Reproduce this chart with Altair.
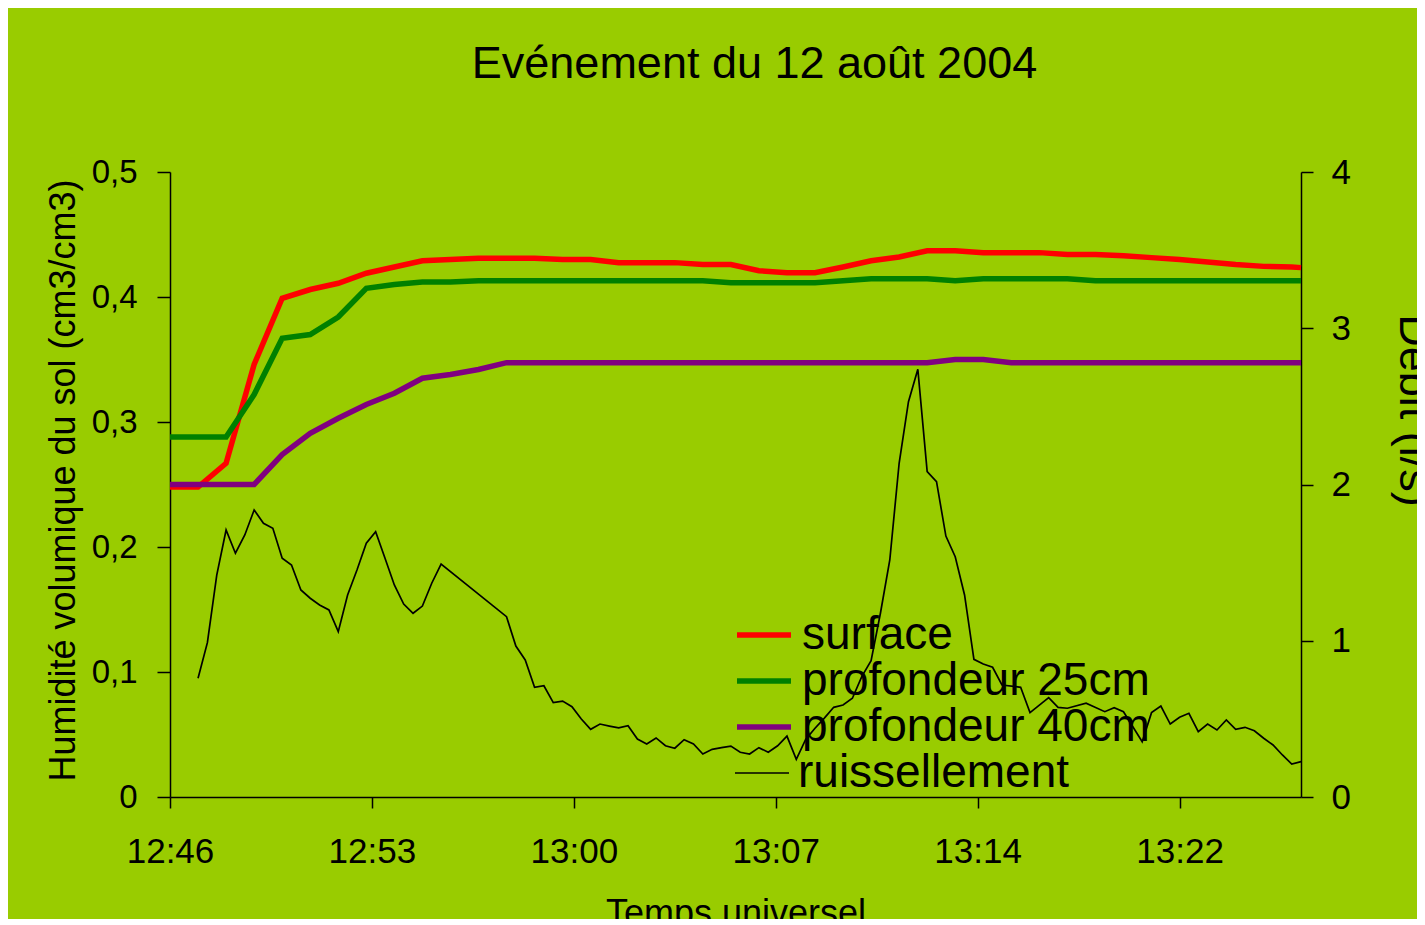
import altair as alt
import pandas as pd

# ---------------- data ----------------
# minutes since 12:46 (soil probes, one reading per minute)
soil_minutes = [0, 1, 2, 3, 4, 5, 6, 7, 8, 9, 10, 11, 12, 13, 14, 15, 16, 17, 18, 19, 20,
                21, 22, 23, 24, 25, 26, 27, 28, 29, 30, 31, 32, 33, 34, 35, 36, 37, 38, 39, 40, 40.33]
surface = [0.248, 0.248, 0.267, 0.346, 0.399, 0.406, 0.411, 0.419, 0.424, 0.429, 0.430,
           0.431, 0.431, 0.431, 0.430, 0.430, 0.4275, 0.4275, 0.4275, 0.426, 0.426,
           0.421, 0.4195, 0.4195, 0.424, 0.429, 0.432, 0.437, 0.437, 0.4355, 0.4355,
           0.4355, 0.434, 0.434, 0.433, 0.4315, 0.430, 0.428, 0.426, 0.4245, 0.424, 0.4235]
prof25 = [0.288, 0.288, 0.288, 0.322, 0.367, 0.370, 0.384, 0.407, 0.410, 0.412, 0.412,
          0.413, 0.413, 0.413, 0.413, 0.413, 0.413, 0.413, 0.413, 0.413, 0.4115,
          0.4115, 0.4115, 0.4115, 0.413, 0.4146, 0.4146, 0.4146, 0.413, 0.4146, 0.4146,
          0.4146, 0.4146, 0.413, 0.413, 0.413, 0.413, 0.413, 0.413, 0.413, 0.413, 0.413]
prof40 = [0.25, 0.25, 0.25, 0.25, 0.274, 0.291, 0.303, 0.314, 0.323, 0.335, 0.338,
          0.342, 0.3475, 0.3475, 0.3475, 0.3475, 0.3475, 0.3475, 0.3475, 0.3475, 0.3475,
          0.3475, 0.3475, 0.3475, 0.3475, 0.3475, 0.3475, 0.3475, 0.350, 0.350, 0.3475,
          0.3475, 0.3475, 0.3475, 0.3475, 0.3475, 0.3475, 0.3475, 0.3475, 0.3475, 0.3475, 0.3475]

# runoff (l/s), readings every 20 s
runoff_t = [1.0, 1.333, 1.667, 2.0, 2.333, 2.667, 3.0, 3.333, 3.667, 4.0, 4.333, 4.667,
            5.0, 5.333, 5.667, 6.0, 6.333, 6.667, 7.0, 7.333, 7.667, 8.0, 8.333, 8.667,
            9.0, 9.333, 9.667, 12.0, 12.333, 12.667, 13.0, 13.333, 13.667, 14.0, 14.333,
            14.667, 15.0, 15.333, 15.667, 16.0, 16.333, 16.667, 17.0, 17.333, 17.667,
            18.0, 18.333, 18.667, 19.0, 19.333, 19.667, 20.0, 20.333, 20.667, 21.0,
            21.333, 21.667, 22.0, 22.333, 22.667, 23.0, 23.333, 23.667, 24.0, 24.333,
            24.667, 25.0, 25.333, 25.667, 26.0, 26.333, 26.667, 27.0, 27.333, 27.667,
            28.0, 28.333, 28.667, 29.0, 29.333, 29.667, 30.333, 30.667, 31.333, 31.667,
            32.0, 32.667, 33.333, 33.667, 34.0, 34.667, 35.0, 35.333, 35.667, 36.0,
            36.333, 36.667, 37.0, 37.333, 37.667, 38.0, 38.333, 38.667, 39.0, 39.333,
            39.667, 40.0, 40.333]
runoff_q = [0.76, 0.988, 1.42, 1.709, 1.56, 1.677, 1.837, 1.752, 1.72, 1.528, 1.485, 1.325,
            1.272, 1.229, 1.197, 1.058, 1.293, 1.453, 1.624, 1.698, 1.528, 1.357, 1.235, 1.176,
            1.222, 1.368, 1.491, 1.154, 0.966, 0.877, 0.702, 0.712, 0.604, 0.614, 0.578,
            0.499, 0.433, 0.467, 0.454, 0.442, 0.456, 0.371, 0.339, 0.378, 0.328,
            0.312, 0.367, 0.339, 0.275, 0.305, 0.316, 0.326, 0.286, 0.275, 0.316,
            0.286, 0.328, 0.39, 0.241, 0.369, 0.44, 0.505, 0.574, 0.589, 0.632,
            0.77, 0.872, 1.176, 1.517, 2.136, 2.53, 2.737, 2.082, 2.018, 1.670,
            1.538, 1.293, 0.881, 0.851, 0.830, 0.717, 0.702, 0.540, 0.636, 0.574,
            0.568, 0.60, 0.546, 0.572, 0.546, 0.354, 0.540, 0.582, 0.467, 0.510,
            0.536, 0.418, 0.467, 0.429, 0.493, 0.433, 0.446, 0.424, 0.376, 0.333,
            0.269, 0.211, 0.226]

series_names = ["surface", "profondeur 25cm", "profondeur 40cm", "ruissellement"]
series_colors = ["#FF0000", "#008000", "#800080", "#000000"]

x_tick_values = [0, 7.2, 14.4, 21.6, 28.8, 36.0]
x_tick_labels = ["12:46", "12:53", "13:00", "13:07", "13:14", "13:22"]
left_tick_values = [0, 0.1, 0.2, 0.3, 0.4, 0.5]
left_tick_labels = ["0", "0,1", "0,2", "0,3", "0,4", "0,5"]
right_tick_values = [0, 1, 2, 3, 4]

FONT = "Liberation Sans"

# legend rows (pixel offsets from the plot top)
legend_rows_y = [433, 479, 525, 573]

x_label_expr = "[" + ",".join("'%s'" % s for s in x_tick_labels) + "][round(datum.value / 7.2)]"
y_label_expr = "[" + ",".join("'%s'" % s for s in left_tick_labels) + "][round(datum.value * 10)]"

x_enc = alt.X(
    "t:Q",
    scale=alt.Scale(domain=[0, 40.33], nice=False, zero=False),
    axis=alt.Axis(values=x_tick_values, labelExpr=x_label_expr, title="Temps universel",
                  grid=False, tickSize=11, labelPadding=26, labelFontSize=35,
                  labelFlush=False, labelOverlap=False,
                  titleFontSize=36, titleFontWeight="normal", titleY=116,
                  titleBaseline="middle"),
)

left_axis = alt.Axis(values=left_tick_values, labelExpr=y_label_expr,
                     title="Humidité volumique du sol (cm3/cm3)", grid=False,
                     tickSize=13, labelPadding=20, labelFontSize=33,
                     titleFontSize=36, titleFontWeight="normal", titleAngle=270,
                     titleX=-107, titleY=308, titleAlign="center",
                     titleBaseline="middle")


def legend_for(i, width):
    return alt.Legend(title=None, orient="none", legendX=564, legendY=legend_rows_y[i],
                      symbolType="stroke", symbolSize=2916, symbolStrokeWidth=width,
                      labelFontSize=46, labelFont=FONT, labelLimit=800, labelOffset=8,
                      padding=0)


layers = []
for i, vals in enumerate([surface, prof25, prof40]):
    df = pd.DataFrame({"t": soil_minutes, "v": vals, "serie": series_names[i]})
    layers.append(
        alt.Chart(df).mark_line(strokeWidth=5.5).encode(
            x=x_enc,
            y=alt.Y("v:Q", scale=alt.Scale(domain=[0, 0.5], nice=False), axis=left_axis),
            color=alt.Color("serie:N",
                            scale=alt.Scale(domain=[series_names[i]], range=[series_colors[i]]),
                            legend=legend_for(i, 5.5)),
            order=alt.Order("t:Q"),
        )
    )
soil = alt.layer(*layers).resolve_scale(color="independent")

runoff_df = pd.DataFrame({"t": runoff_t, "q": runoff_q, "serie": series_names[3]})
runoff = alt.Chart(runoff_df).mark_line(strokeWidth=1.7).encode(
    x=x_enc,
    y=alt.Y("q:Q", scale=alt.Scale(domain=[0, 4], nice=False),
            axis=alt.Axis(orient="right", values=right_tick_values, format="d",
                          title="Débit (l/s)", grid=False, tickSize=12, labelPadding=18,
                          labelFontSize=35, titleFontSize=45, titleFontWeight="normal",
                          titleAngle=90, titleX=112, titleY=238, titleAlign="center",
                          titleBaseline="middle")),
    color=alt.Color("serie:N",
                    scale=alt.Scale(domain=[series_names[3]], range=[series_colors[3]]),
                    legend=legend_for(3, 1.7)),
    order=alt.Order("t:Q"),
)

chart = alt.layer(soil, runoff).resolve_scale(
    y="independent", color="independent"
).properties(
    width=1131,
    height=625,
    padding={"left": 162, "top": 164, "right": 116, "bottom": 122},
    autosize=alt.AutoSizeParams(type="none"),
    background="#99CC00",
    title=alt.TitleParams("Evénement du 12 août 2004", fontSize=45, font=FONT,
                          fontWeight="normal", anchor="middle", frame="group",
                          baseline="alphabetic", offset=32, dx=19, color="black"),
).configure(
    font=FONT,
).configure_view(
    stroke=None,
).configure_axis(
    domainColor="black", domainWidth=1.5, tickColor="black", tickWidth=1.5,
    labelColor="black", titleColor="black", labelFont=FONT, titleFont=FONT,
)

chart.save("out.html", embed_options={"renderer": "svg", "actions": False})
